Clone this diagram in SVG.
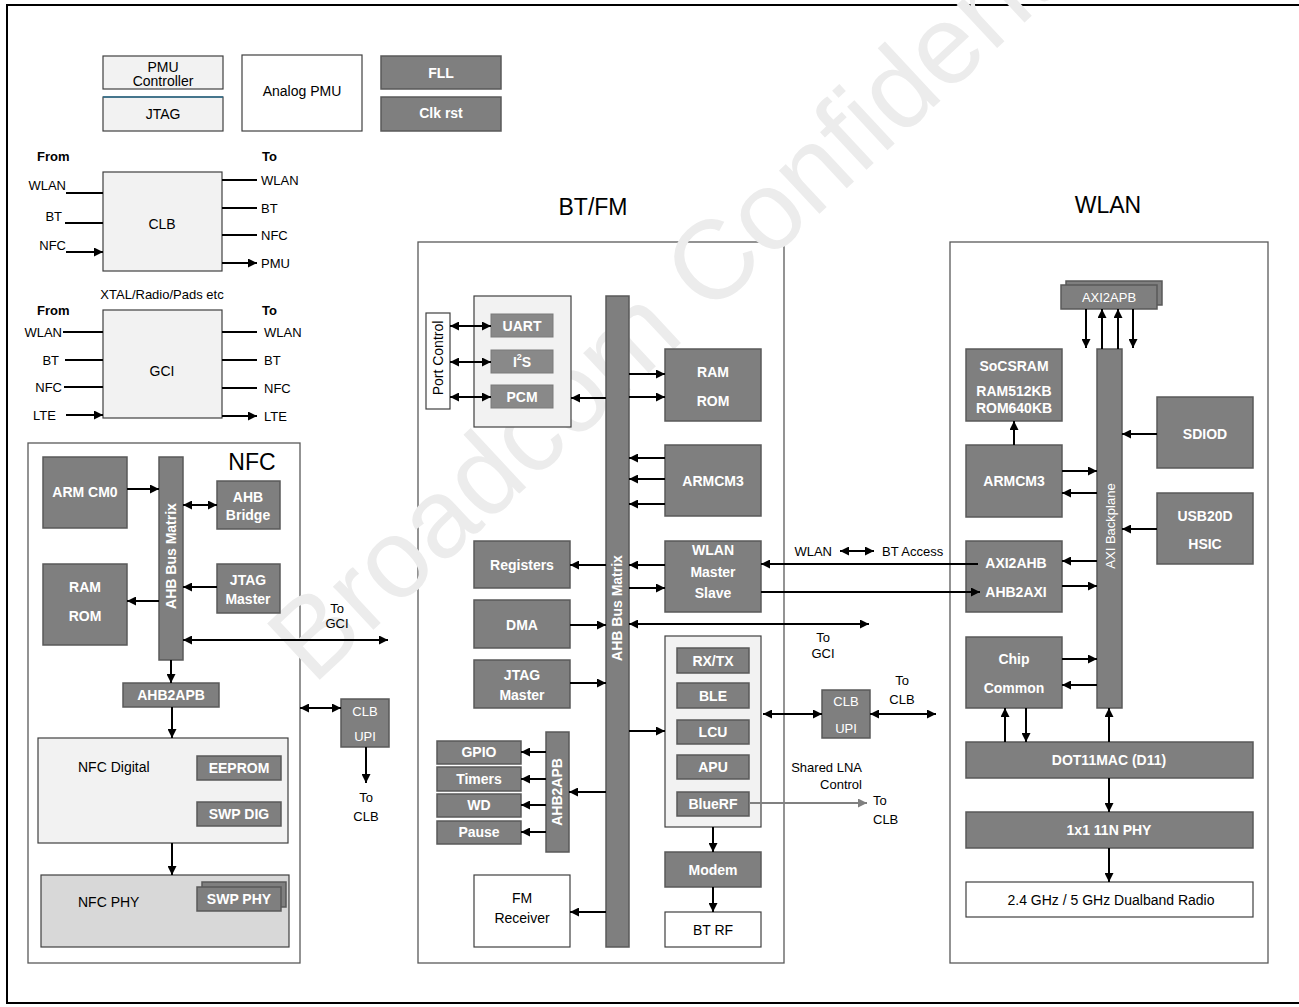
<svg xmlns="http://www.w3.org/2000/svg" width="1299" height="1007" viewBox="0 0 1299 1007">
<style>
.dk{fill:#7f7f7f;stroke:#595959;stroke-width:1.5}
.dl{fill:#898989;stroke:#7a7a7a;stroke-width:1}
.lt{fill:#f2f2f2;stroke:#404040;stroke-width:1.2}
.lg{fill:#d8d8d8;stroke:#404040;stroke-width:1.2}
.wh{fill:#ffffff;stroke:#404040;stroke-width:1.2}
.fr{fill:#ffffff;stroke:#595959;stroke-width:1.3}
text{font-family:"Liberation Sans",Arial,sans-serif;dominant-baseline:central}
.tb{font-weight:bold;fill:#ffffff;font-size:14px;text-anchor:middle}
.tw{fill:#ffffff;font-size:13px;text-anchor:middle}
.t{fill:#000000;font-size:14px}
.tc{fill:#000000;font-size:14px;text-anchor:middle}
.te{fill:#000000;font-size:13px;text-anchor:end}
.ts{fill:#000000;font-size:13px}
.hd{fill:#000000;font-size:13px;font-weight:bold}
.ttl{fill:#000000;font-size:23px;text-anchor:middle}
.ln{stroke:#000000;stroke-width:2;fill:none}
.a1{marker-end:url(#ah)}
.a2{marker-start:url(#ah);marker-end:url(#ah)}
.wm{font-size:112px;fill:#ececec;dominant-baseline:alphabetic}
</style>
<defs>
<marker id="ah" viewBox="0 0 10 10" refX="10" refY="5" markerWidth="9" markerHeight="9" markerUnits="userSpaceOnUse" orient="auto-start-reverse"><path d="M0,0L10,5L0,10z" fill="#000000"/></marker>
<marker id="ahg" viewBox="0 0 10 10" refX="10" refY="5" markerWidth="9" markerHeight="9" markerUnits="userSpaceOnUse" orient="auto"><path d="M0,0L10,5L0,10z" fill="#808080"/></marker>
</defs>
<rect x="0" y="0" width="1299" height="1007" fill="#ffffff"/>
<rect x="7" y="5" width="1300" height="998" fill="none" stroke="#000000" stroke-width="2"/>

<g id="nfc-frame"><rect class="fr" x="28" y="443" width="272" height="520"/><text class="ttl" x="252" y="462">NFC</text></g>
<g id="btfm-frame"><rect class="fr" x="418" y="242" width="366" height="721"/><text class="ttl" x="593" y="207">BT/FM</text></g>
<g id="wlan-frame"><rect class="fr" x="950" y="242" width="318" height="721"/><text class="ttl" x="1108" y="205">WLAN</text></g>

<g id="watermark"><text class="wm" transform="translate(313,686) rotate(-43)">Broadcom Confidential</text></g>

<g id="pmu-controller"><rect class="lt" x="103" y="56" width="120" height="33"/><text class="tc" x="163" y="67">PMU</text><text class="tc" x="163" y="81">Controller</text></g>
<g id="jtag"><rect class="lt" x="103" y="97" width="120" height="34"/><line x1="103" y1="97" x2="223" y2="97" stroke="#2e6f8e" stroke-width="1.5"/><text class="tc" x="163" y="114">JTAG</text></g>
<g id="analog-pmu"><rect class="wh" x="242" y="55" width="120" height="76"/><text class="tc" x="302" y="91">Analog PMU</text></g>
<g id="fll"><rect class="dk" x="381" y="56" width="120" height="33"/><text class="tb" x="441" y="73">FLL</text></g>
<g id="clk-rst"><rect class="dk" x="381" y="97" width="120" height="34"/><text class="tb" x="441" y="113">Clk rst</text></g>

<g id="clb">
<text class="hd" x="37" y="156">From</text><text class="hd" x="262" y="156">To</text>
<rect class="lt" x="103" y="172" width="119" height="99"/><text class="tc" x="162" y="224">CLB</text>
<text class="te" x="66" y="185">WLAN</text><text class="te" x="62" y="216">BT</text><text class="te" x="66" y="245">NFC</text>
<text class="ts" x="261" y="180">WLAN</text><text class="ts" x="261" y="208">BT</text><text class="ts" x="261" y="235">NFC</text><text class="ts" x="261" y="263">PMU</text>
</g>
<text class="ts" x="162" y="294" text-anchor="middle">XTAL/Radio/Pads etc</text>
<g id="gci">
<text class="hd" x="37" y="310">From</text><text class="hd" x="262" y="310">To</text>
<rect class="lt" x="103" y="310" width="119" height="108"/><text class="tc" x="162" y="371">GCI</text>
<text class="te" x="62" y="332">WLAN</text><text class="te" x="59" y="360">BT</text><text class="te" x="62" y="387">NFC</text><text class="te" x="56" y="415">LTE</text>
<text class="ts" x="264" y="332">WLAN</text><text class="ts" x="264" y="360">BT</text><text class="ts" x="264" y="388">NFC</text><text class="ts" x="264" y="416">LTE</text>
</g>

<g id="nfc-armcm0"><rect class="dk" x="43" y="457" width="84" height="71"/><text class="tb" x="85" y="492">ARM CM0</text></g>
<g id="nfc-bus"><rect class="dk" x="159" y="457" width="24" height="203"/><text class="tb" transform="translate(171,556) rotate(-90)">AHB Bus Matrix</text></g>
<g id="nfc-ahb-bridge"><rect class="dk" x="217" y="481" width="63" height="48"/><text class="tb" x="248" y="497">AHB</text><text class="tb" x="248" y="515">Bridge</text></g>
<g id="nfc-ramrom"><rect class="dk" x="43" y="564" width="84" height="81"/><text class="tb" x="85" y="587">RAM</text><text class="tb" x="85" y="616">ROM</text></g>
<g id="nfc-jtag"><rect class="dk" x="217" y="564" width="63" height="49"/><text class="tb" x="248" y="580">JTAG</text><text class="tb" x="248" y="599">Master</text></g>
<g id="nfc-ahb2apb"><rect class="dk" x="123" y="683" width="96" height="24"/><text class="tb" x="171" y="695">AHB2APB</text></g>
<g id="nfc-digital"><rect class="lt" x="38" y="738" width="250" height="105"/><text class="t" x="78" y="767">NFC Digital</text></g>
<g id="nfc-eeprom"><rect class="dk" x="197" y="756" width="84" height="24"/><text class="tb" x="239" y="768" font-size="12">EEPROM</text></g>
<g id="nfc-swpdig"><rect class="dk" x="197" y="802" width="84" height="24"/><text class="tb" x="239" y="814" font-size="12">SWP DIG</text></g>
<g id="nfc-phy"><rect class="lg" x="41" y="875" width="248" height="72"/><text class="t" x="78" y="902">NFC PHY</text></g>
<g id="nfc-swpphy"><rect class="dk" x="202" y="882" width="84" height="25"/><rect class="dk" x="197" y="887" width="84" height="24"/><text class="tb" x="239" y="899" font-size="12">SWP PHY</text></g>
<g id="nfc-clbupi"><rect class="dk" x="341" y="699" width="48" height="48"/><text class="tw" x="365" y="711">CLB</text><text class="tw" x="365" y="736">UPI</text></g>
<text class="ts" x="337" y="608" text-anchor="middle">To</text><text class="ts" x="337" y="623" text-anchor="middle">GCI</text>
<text class="ts" x="366" y="797" text-anchor="middle">To</text><text class="ts" x="366" y="816" text-anchor="middle">CLB</text>

<g id="bt-portctrl"><rect class="wh" x="426" y="313" width="24" height="96"/><text class="t" text-anchor="middle" transform="translate(438,358) rotate(-90)">Port Control</text></g>
<g id="bt-if-group"><rect class="lt" x="474" y="296" width="97" height="131"/></g>
<g id="bt-uart"><rect class="dl" x="491" y="314" width="62" height="23"/><text class="tb" x="522" y="326">UART</text></g>
<g id="bt-i2s"><rect class="dl" x="491" y="350" width="62" height="23"/><text class="tb" x="522" y="362">I<tspan font-size="9" dy="-5">2</tspan><tspan dy="5">S</tspan></text></g>
<g id="bt-pcm"><rect class="dl" x="491" y="385" width="62" height="23"/><text class="tb" x="522" y="397">PCM</text></g>
<g id="bt-bus"><rect class="dk" x="606" y="296" width="23" height="651"/><text class="tb" transform="translate(617,608) rotate(-90)">AHB Bus Matrix</text></g>
<g id="bt-ramrom"><rect class="dk" x="665" y="349" width="96" height="72"/><text class="tb" x="713" y="372">RAM</text><text class="tb" x="713" y="401">ROM</text></g>
<g id="bt-armcm3"><rect class="dk" x="665" y="445" width="96" height="71"/><text class="tb" x="713" y="481">ARMCM3</text></g>
<g id="bt-registers"><rect class="dk" x="474" y="541" width="96" height="47"/><text class="tb" x="522" y="565">Registers</text></g>
<g id="bt-wlan-ms"><rect class="dk" x="665" y="541" width="96" height="71"/><text class="tb" x="713" y="550">WLAN</text><text class="tb" x="713" y="572">Master</text><text class="tb" x="713" y="593">Slave</text></g>
<g id="bt-dma"><rect class="dk" x="474" y="600" width="96" height="48"/><text class="tb" x="522" y="625">DMA</text></g>
<g id="bt-jtag"><rect class="dk" x="474" y="660" width="96" height="48"/><text class="tb" x="522" y="675">JTAG</text><text class="tb" x="522" y="695">Master</text></g>
<g id="bt-rf-group"><rect class="lt" x="665" y="636" width="96" height="191"/></g>
<g id="bt-rxtx"><rect class="dk" x="677" y="648" width="72" height="25"/><text class="tb" x="713" y="661">RX/TX</text></g>
<g id="bt-ble"><rect class="dk" x="677" y="683" width="72" height="25"/><text class="tb" x="713" y="696">BLE</text></g>
<g id="bt-lcu"><rect class="dk" x="677" y="720" width="72" height="24"/><text class="tb" x="713" y="732">LCU</text></g>
<g id="bt-apu"><rect class="dk" x="677" y="755" width="72" height="24"/><text class="tb" x="713" y="767">APU</text></g>
<g id="bt-bluerf"><rect class="dk" x="677" y="792" width="72" height="24"/><text class="tb" x="713" y="804" font-size="11">BlueRF</text></g>
<g id="bt-modem"><rect class="dk" x="665" y="852" width="96" height="35"/><text class="tb" x="713" y="870">Modem</text></g>
<g id="bt-btrf"><rect class="wh" x="665" y="912" width="96" height="35"/><text class="tc" x="713" y="930">BT RF</text></g>
<g id="bt-ahb2apb"><rect class="dk" x="546" y="732" width="23" height="120"/><text class="tb" transform="translate(557,792) rotate(-90)">AHB2APB</text></g>
<g id="bt-gpio"><rect class="dk" x="437" y="741" width="84" height="23"/><text class="tb" x="479" y="752">GPIO</text></g>
<g id="bt-timers"><rect class="dk" x="437" y="767" width="84" height="24"/><text class="tb" x="479" y="779">Timers</text></g>
<g id="bt-wd"><rect class="dk" x="437" y="794" width="84" height="23"/><text class="tb" x="479" y="805">WD</text></g>
<g id="bt-pause"><rect class="dk" x="437" y="821" width="84" height="23"/><text class="tb" x="479" y="832">Pause</text></g>
<g id="bt-fm"><rect class="wh" x="474" y="875" width="96" height="72"/><text class="tc" x="522" y="898">FM</text><text class="tc" x="522" y="918">Receiver</text></g>
<g id="bt-clbupi"><rect class="dk" x="822" y="690" width="48" height="48"/><text class="tw" x="846" y="701">CLB</text><text class="tw" x="846" y="728">UPI</text></g>

<text class="te" x="832" y="551">WLAN</text><text class="ts" x="882" y="551">BT Access</text>
<text class="ts" x="823" y="637" text-anchor="middle">To</text><text class="ts" x="823" y="653" text-anchor="middle">GCI</text>
<text class="ts" x="902" y="680" text-anchor="middle">To</text><text class="ts" x="902" y="699" text-anchor="middle">CLB</text>
<text class="te" x="862" y="767">Shared LNA</text><text class="te" x="862" y="784">Control</text>
<text class="ts" x="873" y="800">To</text><text class="ts" x="873" y="819">CLB</text>

<g id="wl-axi2apb"><rect class="dk" x="1066" y="281" width="96" height="24"/><rect class="dk" x="1061" y="285" width="96" height="24"/><text class="tw" x="1109" y="297">AXI2APB</text></g>
<g id="wl-bus"><rect class="dk" x="1097" y="349" width="25" height="359"/><text class="tw" font-size="15" transform="translate(1110,526) rotate(-90)">AXI Backplane</text></g>
<g id="wl-socsram"><rect class="dk" x="966" y="349" width="96" height="72"/><text class="tb" font-size="12" x="1014" y="366">SoCSRAM</text><text class="tb" font-size="12" x="1014" y="391">RAM512KB</text><text class="tb" font-size="12" x="1014" y="408">ROM640KB</text></g>
<g id="wl-armcm3"><rect class="dk" x="966" y="445" width="96" height="72"/><text class="tb" x="1014" y="481">ARMCM3</text></g>
<g id="wl-sdiod"><rect class="dk" x="1157" y="397" width="96" height="71"/><text class="tb" x="1205" y="434">SDIOD</text></g>
<g id="wl-usb"><rect class="dk" x="1157" y="493" width="96" height="71"/><text class="tb" x="1205" y="516">USB20D</text><text class="tb" x="1205" y="544">HSIC</text></g>
<g id="wl-axi2ahb"><rect class="dk" x="966" y="541" width="96" height="71"/><text class="tb" x="1016" y="563">AXI2AHB</text><text class="tb" x="1016" y="592">AHB2AXI</text></g>
<g id="wl-chipcommon"><rect class="dk" x="966" y="637" width="96" height="71"/><text class="tb" x="1014" y="659">Chip</text><text class="tb" x="1014" y="688">Common</text></g>
<g id="wl-dot11mac"><rect class="dk" x="966" y="742" width="287" height="36"/><text class="tb" font-size="16" x="1109" y="760">DOT11MAC (D11)</text></g>
<g id="wl-phy"><rect class="dk" x="966" y="812" width="287" height="36"/><text class="tb" font-size="16" x="1109" y="830">1x1 11N PHY</text></g>
<g id="wl-radio"><rect class="wh" x="966" y="882" width="287" height="35"/><text class="tc" font-size="17" x="1111" y="900">2.4 GHz / 5 GHz Dualband Radio</text></g>

<g id="connectors">
<path class="ln a1" d="M66,193H103M65,223H103M66,252H103"/>
<path class="ln a1" d="M222,180H257M222,208H257M222,235H257M222,263H257"/>
<path class="ln a1" d="M63,332H103M65,360H103M64,387H103M66,415H103"/>
<path class="ln a1" d="M222,332H257M222,360H257M222,388H257M222,416H257"/>
<path class="ln a1" d="M127,489H159"/>
<path class="ln a2" d="M183,505H217"/>
<path class="ln a1" d="M159,601H127"/>
<path class="ln a1" d="M217,587H183"/>
<path class="ln a2" d="M183,640H388"/>
<path class="ln a1" d="M171,660V683"/>
<path class="ln a1" d="M172,707V738"/>
<path class="ln a1" d="M172,843V875"/>
<path class="ln a2" d="M300,708H341"/>
<path class="ln a1" d="M366,747V783"/>
<path class="ln a2" d="M450,326H491"/>
<path class="ln a2" d="M450,362H491"/>
<path class="ln a2" d="M450,397H491"/>
<path class="ln a1" d="M606,398H571"/>
<path class="ln a1" d="M629,374H665"/>
<path class="ln a1" d="M629,397H665"/>
<path class="ln a1" d="M665,458H629"/>
<path class="ln a1" d="M665,479H629"/>
<path class="ln a1" d="M665,504H629"/>
<path class="ln a1" d="M606,565H570"/>
<path class="ln a1" d="M665,565H629"/>
<path class="ln a1" d="M629,588H665"/>
<path class="ln a1" d="M570,625H606"/>
<path class="ln a2" d="M629,624H869"/>
<path class="ln a1" d="M570,683H606"/>
<path class="ln a1" d="M629,731H665"/>
<path class="ln a1" d="M606,792H569"/>
<path class="ln a1" d="M546,752H521"/>
<path class="ln a1" d="M546,779H521"/>
<path class="ln a1" d="M546,805H521"/>
<path class="ln a1" d="M546,832H521"/>
<path class="ln a1" d="M606,912H570"/>
<path class="ln a1" d="M713,827V852"/>
<path class="ln a1" d="M713,887V912"/>
<path d="M749,803H867" stroke="#808080" stroke-width="2" fill="none" marker-end="url(#ahg)"/>
<path class="ln a2" d="M840,551H874"/>
<path class="ln a1" d="M978,564H761"/>
<path class="ln a1" d="M761,592H980"/>
<path class="ln a2" d="M763,714H822"/>
<path class="ln a2" d="M870,714H936"/>
<path class="ln a1" d="M1086,309V348"/>
<path class="ln a1" d="M1102,349V309"/>
<path class="ln a1" d="M1118,349V309"/>
<path class="ln a1" d="M1133,309V348"/>
<path class="ln a1" d="M1014,445V421"/>
<path class="ln a1" d="M1062,471H1097"/>
<path class="ln a1" d="M1097,493H1062"/>
<path class="ln a1" d="M1157,434H1122"/>
<path class="ln a1" d="M1157,529H1122"/>
<path class="ln a1" d="M1097,561H1062"/>
<path class="ln a1" d="M1062,586H1097"/>
<path class="ln a1" d="M1062,659H1097"/>
<path class="ln a1" d="M1097,685H1062"/>
<path class="ln a1" d="M1005,742V708"/>
<path class="ln a1" d="M1026,708V742"/>
<path class="ln a1" d="M1109,742V708"/>
<path class="ln a1" d="M1109,778V812"/>
<path class="ln a1" d="M1109,848V882"/>
</g>
</svg>
